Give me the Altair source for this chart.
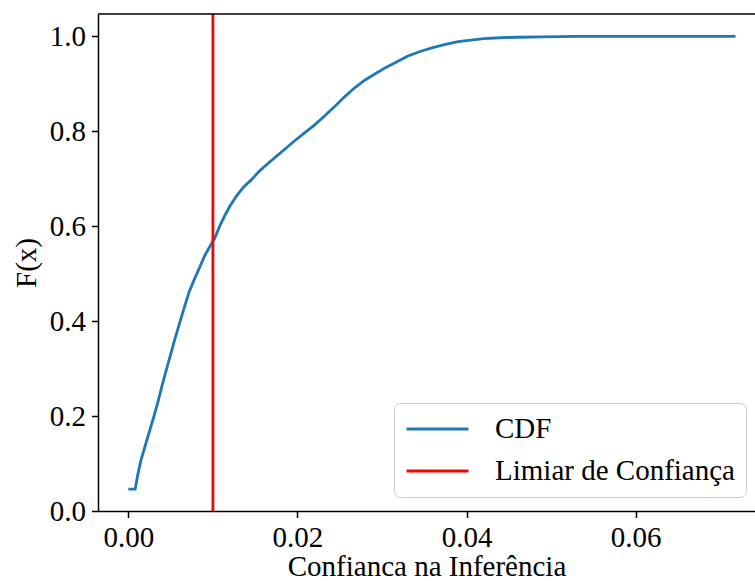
import altair as alt
import pandas as pd

# CDF curve
cdf_x = [0.0, 0.0008, 0.0011, 0.0015, 0.0020, 0.0025, 0.0030, 0.0035, 0.0040, 0.0045,
         0.0050, 0.0055, 0.0060, 0.0066, 0.0072, 0.0078, 0.0084, 0.0090, 0.0096, 0.0102,
         0.0108, 0.0114, 0.0120, 0.0128, 0.0136, 0.0145, 0.0155, 0.0165, 0.0175, 0.0185,
         0.0196, 0.0208, 0.0220, 0.0232, 0.0244, 0.0256, 0.0268, 0.0280, 0.0292, 0.0304,
         0.0316, 0.0330, 0.0345, 0.0360, 0.0375, 0.0390, 0.0405, 0.0420, 0.0440, 0.0460,
         0.0490, 0.0530, 0.0600, 0.0718]
cdf_y = [0.046, 0.046, 0.075, 0.108, 0.138, 0.168, 0.198, 0.230, 0.265, 0.298,
         0.330, 0.362, 0.392, 0.428, 0.462, 0.488, 0.512, 0.537, 0.556, 0.574,
         0.600, 0.622, 0.642, 0.664, 0.682, 0.697, 0.716, 0.732, 0.747, 0.762,
         0.779, 0.796, 0.813, 0.832, 0.852, 0.873, 0.892, 0.908, 0.921, 0.934,
         0.945, 0.958, 0.968, 0.976, 0.983, 0.989, 0.992, 0.995, 0.997, 0.998,
         0.999, 1.0, 1.0, 1.0]
threshold = [0.01]
series_names = ["CDF", "Limiar de Confiança"]
series_colors = ["#1f77b4", "#ff0000"]
x_ticks = [0.0, 0.02, 0.04, 0.06]
y_ticks = [0.0, 0.2, 0.4, 0.6, 0.8, 1.0]

FONT = "Liberation Serif"
FS = 29
W, H = 657, 497

cdf_df = pd.DataFrame({"x": cdf_x, "F": cdf_y, "serie": series_names[0]})
thr_df = pd.DataFrame({"x": threshold, "serie": series_names[1]})

xscale = alt.Scale(domain=[-0.00359, 0.07411], nice=False, zero=False)
yscale = alt.Scale(domain=[0, 1.047], nice=False, zero=False)
color = alt.Color(
    "serie:N",
    scale=alt.Scale(domain=series_names, range=series_colors),
    legend=alt.Legend(title=None, orient="none", legendX=296, legendY=389),
)

line = alt.Chart(cdf_df).mark_line(strokeWidth=2.8).encode(
    x=alt.X("x:Q", scale=xscale,
            axis=alt.Axis(title="Confianca na Inferência", values=x_ticks, format=".2f")),
    y=alt.Y("F:Q", scale=yscale,
            axis=alt.Axis(title="F(x)", values=y_ticks, format=".1f")),
    color=color,
)

rule = alt.Chart(thr_df).mark_rule(strokeWidth=2.8).encode(
    x=alt.X("x:Q", scale=xscale),
    color=color,
)

top_spine = alt.Chart(thr_df).mark_rule(color="black", strokeWidth=1.5).encode(
    x=alt.value(0), x2=alt.value(W), y=alt.value(0)
)

chart = alt.layer(line, rule, top_spine).properties(
    width=W, height=H,
    autosize=alt.AutoSizeParams(type="none"),
    padding={"left": 98, "top": 14, "right": 0, "bottom": 70},
).configure_view(
    stroke=None
).configure_axis(
    grid=False,
    domainColor="black", domainWidth=1.5,
    tickColor="black", tickWidth=1.5, tickSize=6.5,
    labelFont=FONT, labelFontSize=FS, labelColor="black", labelPadding=6,
    titleFont=FONT, titleFontSize=FS, titleFontWeight="normal", titleColor="black",
    labelFlush=False, labelOverlap=False,
).configure_axisX(
    titlePadding=0
).configure_axisY(
    titlePadding=8
).configure_legend(
    labelFont=FONT, labelFontSize=FS, labelColor="black",
    symbolType="stroke", symbolSize=3844, symbolStrokeWidth=2.8,
    labelOffset=25, rowPadding=12, clipHeight=30,
    padding=11, strokeColor="#cccccc", fillColor="white", cornerRadius=6,
    labelLimit=400,
)

chart.save("out.html", embed_options={"renderer": "svg", "actions": False})
